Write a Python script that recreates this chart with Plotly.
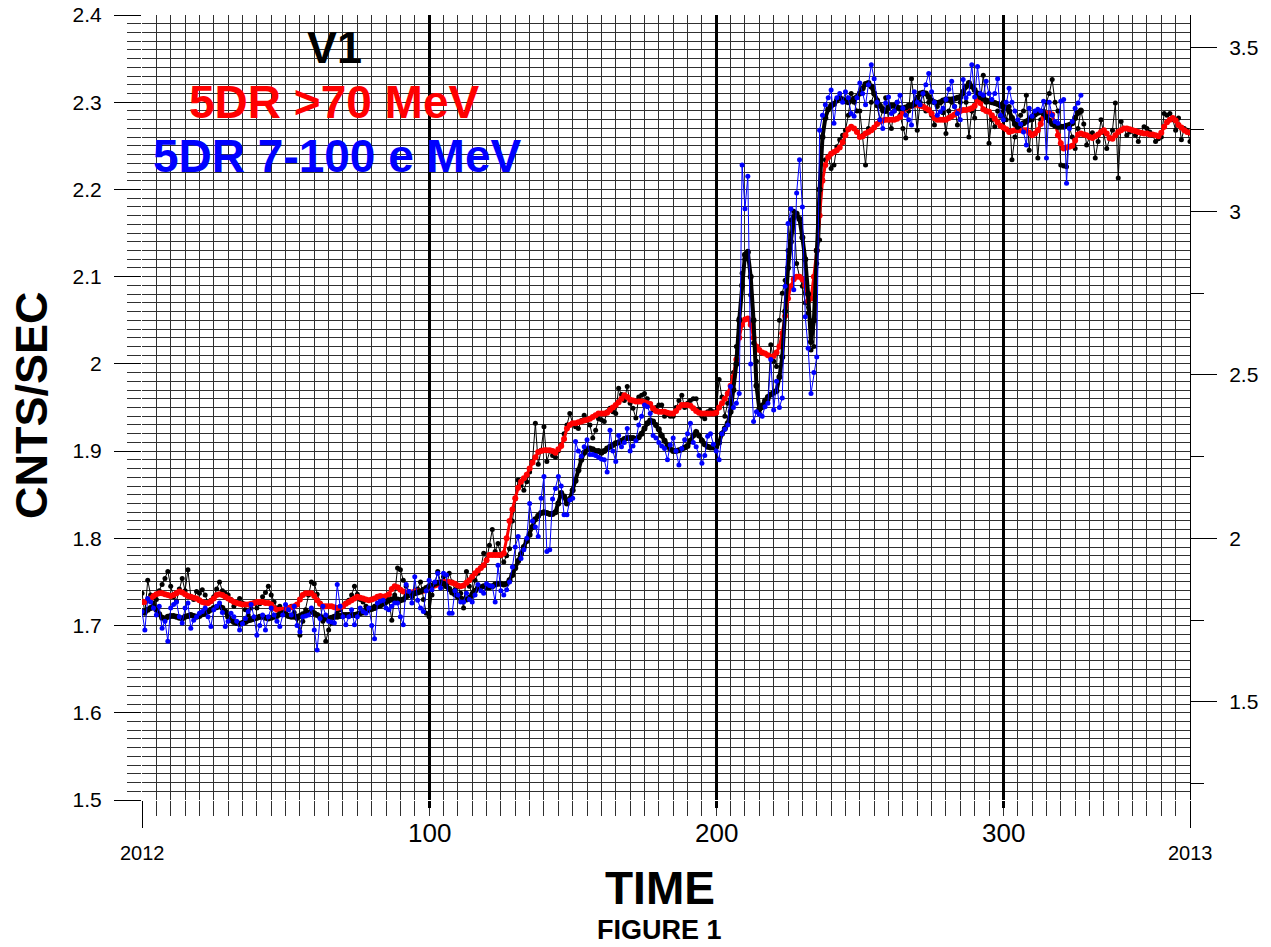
import plotly.graph_objects as go

# ---------------- data ----------------
black_daily = [
    1.737, 1.714, 1.752, 1.735, 1.726, 1.730, 1.740, 1.747, 1.754, 1.762,
    1.745, 1.733, 1.728, 1.742, 1.754, 1.740, 1.764, 1.733, 1.730, 1.739,
    1.737, 1.741, 1.735, 1.726, 1.729, 1.733, 1.742, 1.750, 1.740, 1.737,
    1.735, 1.730, 1.722, 1.726, 1.731, 1.726, 1.718, 1.712, 1.720, 1.726,
    1.720, 1.725, 1.733, 1.738, 1.745, 1.735, 1.727, 1.720, 1.722, 1.714,
    1.716, 1.718, 1.722, 1.715, 1.708, 1.689, 1.705, 1.718, 1.735, 1.750,
    1.748, 1.736, 1.726, 1.705, 1.682, 1.695, 1.703, 1.710, 1.714, 1.718,
    1.722, 1.726, 1.729, 1.735, 1.745, 1.736, 1.730, 1.727, 1.722, 1.718,
    1.720, 1.722, 1.725, 1.724, 1.726, 1.728, 1.729, 1.706, 1.735, 1.766,
    1.764, 1.752, 1.745, 1.739, 1.733, 1.737, 1.742, 1.750, 1.730, 1.714,
    1.710, 1.735, 1.748, 1.762, 1.750, 1.756, 1.745, 1.760, 1.750, 1.741,
    1.745, 1.737, 1.720, 1.762, 1.745, 1.737, 1.752, 1.760, 1.766, 1.783,
    1.775, 1.792, 1.810, 1.785, 1.794, 1.780, 1.773, 1.780, 1.788, 1.820,
    1.845, 1.867, 1.861, 1.855, 1.865, 1.876, 1.888, 1.932, 1.885, 1.901,
    1.928, 1.888, 1.900, 1.895, 1.893, 1.900, 1.907, 1.920, 1.930, 1.943,
    1.932, 1.928, 1.926, 1.935, 1.941, 1.935, 1.930, 1.915, 1.924, 1.937,
    1.936, 1.934, 1.945, 1.949, 1.945, 1.943, 1.972, 1.965, 1.958, 1.974,
    1.955, 1.949, 1.938, 1.962, 1.964, 1.966, 1.960, 1.954, 1.947, 1.950,
    1.953, 1.953, 1.940, 1.942, 1.940, 1.940, 1.950, 1.958, 1.964, 1.950,
    1.955, 1.958, 1.960, 1.960, 1.948, 1.940, 1.937, 1.945, 1.947, 1.945,
    1.945, 1.982, 1.962, 1.940, 1.955, 1.968, 1.990, 2.020, 2.052, 2.104,
    2.120, 2.129, 2.079, 2.024, 2.003, 1.943, 1.950, 1.955, 1.959, 2.022,
    2.003, 1.997, 2.050, 2.081, 2.096, 2.130, 2.165, 2.175, 2.115, 2.100,
    2.089, 2.070, 2.058, 2.016, 2.020, 2.115, 2.142, 2.211, 2.234, 2.238,
    2.224, 2.228, 2.249, 2.257, 2.262, 2.268, 2.285, 2.310, 2.300, 2.290,
    2.290, 2.262, 2.228, 2.270, 2.300, 2.310, 2.296, 2.280, 2.290, 2.305,
    2.280, 2.270, 2.290, 2.300, 2.285, 2.270, 2.259, 2.290, 2.327, 2.300,
    2.268, 2.300, 2.310, 2.290, 2.300, 2.285, 2.274, 2.295, 2.300, 2.288,
    2.264, 2.290, 2.300, 2.295, 2.274, 2.300, 2.310, 2.300, 2.260, 2.290,
    2.282, 2.310, 2.300, 2.331, 2.300, 2.253, 2.280, 2.272, 2.290, 2.284,
    2.300, 2.280, 2.295, 2.234, 2.260, 2.270, 2.285, 2.290, 2.308, 2.245,
    2.280, 2.287, 2.236, 2.280, 2.290, 2.300, 2.310, 2.326, 2.300, 2.290,
    2.228, 2.227, 2.226, 2.272, 2.260, 2.247, 2.270, 2.291, 2.275, 2.251,
    2.260, 2.265, 2.236, 2.255, 2.280, 2.265, 2.247, 2.258, 2.268, 2.299,
    2.213, 2.278, 2.270, 2.262, 2.266, 2.268, 2.262, 2.255, 2.265, 2.272,
    2.270, 2.266, 2.262, 2.255, 2.258, 2.260, 2.287, 2.285, 2.287, 2.280,
    2.268, 2.282, 2.257, 2.270, 2.268, 2.255,
]

blue_daily = [
    1.716, 1.695, 1.731, 1.727, 1.720, 1.712, 1.722, 1.697, 1.705, 1.682,
    1.720, 1.724, 1.727, 1.710, 1.703, 1.720, 1.726, 1.697, 1.706, 1.710,
    1.714, 1.716, 1.720, 1.710, 1.699, 1.718, 1.722, 1.726, 1.715, 1.699,
    1.705, 1.714, 1.710, 1.705, 1.695, 1.702, 1.708, 1.716, 1.724, 1.710,
    1.689, 1.700, 1.712, 1.695, 1.710, 1.720, 1.712, 1.705, 1.699, 1.712,
    1.724, 1.718, 1.712, 1.722, 1.700, 1.693, 1.710, 1.711, 1.712, 1.720,
    1.695, 1.672, 1.708, 1.722, 1.712, 1.705, 1.704, 1.703, 1.747, 1.722,
    1.710, 1.701, 1.710, 1.718, 1.701, 1.710, 1.720, 1.716, 1.714, 1.720,
    1.700, 1.685, 1.726, 1.728, 1.729, 1.720, 1.718, 1.722, 1.726, 1.726,
    1.710, 1.701, 1.747, 1.739, 1.726, 1.756, 1.729, 1.720, 1.716, 1.740,
    1.752, 1.741, 1.750, 1.760, 1.743, 1.760, 1.758, 1.714, 1.714, 1.740,
    1.735, 1.727, 1.727, 1.737, 1.730, 1.727, 1.735, 1.747, 1.740, 1.737,
    1.748, 1.746, 1.745, 1.727, 1.769, 1.740, 1.735, 1.741, 1.750, 1.767,
    1.790, 1.802, 1.777, 1.787, 1.800, 1.840, 1.820, 1.813, 1.802, 1.846,
    1.871, 1.785, 1.787, 1.845, 1.857, 1.871, 1.860, 1.827, 1.827, 1.844,
    1.846, 1.911, 1.900, 1.894, 1.905, 1.913, 1.896, 1.896, 1.895, 1.893,
    1.891, 1.890, 1.876, 1.924, 1.900, 1.888, 1.918, 1.905, 1.910, 1.926,
    1.900, 1.906, 1.912, 1.930, 1.940, 1.953, 1.951, 1.943, 1.918, 1.915,
    1.910, 1.906, 1.903, 1.890, 1.907, 1.915, 1.900, 1.884, 1.903, 1.913,
    1.920, 1.932, 1.910, 1.905, 1.895, 1.886, 1.895, 1.917, 1.920, 1.908,
    1.900, 1.890, 1.920, 1.925, 1.930, 1.974, 1.950, 1.955, 1.966, 2.228,
    2.178, 2.215, 2.000, 1.934, 1.945, 1.942, 1.940, 1.951, 1.955, 2.005,
    1.947, 1.980, 1.950, 1.961, 2.089, 2.161, 2.178, 2.085, 2.196, 2.234,
    2.180, 2.054, 2.018, 1.966, 1.990, 2.008, 2.268, 2.285, 2.297, 2.305,
    2.314, 2.276, 2.305, 2.310, 2.300, 2.312, 2.305, 2.287, 2.284, 2.305,
    2.322, 2.310, 2.297, 2.320, 2.343, 2.327, 2.300, 2.280, 2.270, 2.299,
    2.306, 2.287, 2.290, 2.300, 2.308, 2.293, 2.285, 2.280, 2.274, 2.312,
    2.300, 2.297, 2.310, 2.320, 2.333, 2.312, 2.300, 2.285, 2.289, 2.293,
    2.303, 2.315, 2.324, 2.295, 2.287, 2.280, 2.326, 2.305, 2.310, 2.343,
    2.306, 2.341, 2.310, 2.308, 2.324, 2.310, 2.303, 2.310, 2.327, 2.285,
    2.280, 2.300, 2.316, 2.300, 2.290, 2.280, 2.275, 2.266, 2.251, 2.293,
    2.284, 2.290, 2.292, 2.290, 2.301, 2.236, 2.300, 2.285, 2.278, 2.276,
    2.301, 2.303, 2.207, 2.270, 2.278, 2.293, 2.299, 2.308,
]

red_smooth = [
    1.727, 1.727, 1.729, 1.731, 1.734, 1.736, 1.737, 1.737, 1.736, 1.735,
    1.734, 1.735, 1.737, 1.739, 1.738, 1.736, 1.734, 1.733, 1.732, 1.731,
    1.729, 1.727, 1.726, 1.726, 1.728, 1.731, 1.735, 1.736, 1.735, 1.733,
    1.731, 1.729, 1.727, 1.726, 1.725, 1.724, 1.724, 1.724, 1.725, 1.726,
    1.727, 1.727, 1.727, 1.726, 1.726, 1.724, 1.720, 1.718, 1.718, 1.718,
    1.719, 1.720, 1.721, 1.722, 1.724, 1.730, 1.735, 1.737, 1.737, 1.737,
    1.734, 1.729, 1.725, 1.722, 1.722, 1.722, 1.722, 1.721, 1.720, 1.721,
    1.722, 1.725, 1.727, 1.729, 1.731, 1.733, 1.732, 1.731, 1.730, 1.729,
    1.730, 1.731, 1.733, 1.734, 1.733, 1.734, 1.736, 1.742, 1.745, 1.744,
    1.741, 1.739, 1.738, 1.737, 1.738, 1.739, 1.739, 1.739, 1.740, 1.742,
    1.744, 1.745, 1.746, 1.747, 1.748, 1.750, 1.750, 1.750, 1.749, 1.748,
    1.746, 1.745, 1.746, 1.749, 1.752, 1.756, 1.760, 1.763, 1.766, 1.769,
    1.775, 1.781, 1.781, 1.781, 1.781, 1.781, 1.783, 1.800, 1.820, 1.833,
    1.846, 1.858, 1.865, 1.869, 1.873, 1.880, 1.887, 1.893, 1.899, 1.900,
    1.901, 1.901, 1.901, 1.900, 1.898, 1.902, 1.906, 1.914, 1.926, 1.930,
    1.932, 1.932, 1.933, 1.934, 1.935, 1.936, 1.937, 1.939, 1.941, 1.943,
    1.943, 1.943, 1.944, 1.947, 1.950, 1.953, 1.956, 1.960, 1.964, 1.962,
    1.959, 1.958, 1.957, 1.957, 1.957, 1.956, 1.955, 1.954, 1.949, 1.946,
    1.945, 1.945, 1.945, 1.944, 1.943, 1.943, 1.946, 1.950, 1.953, 1.953,
    1.953, 1.952, 1.949, 1.946, 1.944, 1.943, 1.943, 1.943, 1.943, 1.943,
    1.944, 1.950, 1.955, 1.960, 1.966, 1.975, 1.985, 2.005, 2.030, 2.045,
    2.051, 2.052, 2.045, 2.030, 2.020, 2.016, 2.013, 2.012, 2.010, 2.008,
    2.009, 2.013, 2.020, 2.035, 2.055, 2.075, 2.089, 2.097, 2.100, 2.100,
    2.097, 2.090, 2.072, 2.075, 2.100, 2.130, 2.170, 2.210, 2.228, 2.237,
    2.241, 2.243, 2.245, 2.248, 2.254, 2.262, 2.269, 2.272, 2.270, 2.266,
    2.260, 2.261, 2.264, 2.266, 2.268, 2.271, 2.275, 2.278, 2.279, 2.280,
    2.280, 2.280, 2.280, 2.281, 2.283, 2.288, 2.293, 2.295, 2.296, 2.297,
    2.297, 2.296, 2.295, 2.293, 2.291, 2.287, 2.282, 2.280, 2.280, 2.280,
    2.280, 2.282, 2.284, 2.286, 2.289, 2.290, 2.291, 2.291, 2.292, 2.293,
    2.296, 2.302, 2.299, 2.292, 2.290, 2.289, 2.285, 2.281, 2.277, 2.273,
    2.271, 2.269, 2.266, 2.267, 2.268, 2.268, 2.268, 2.268, 2.268, 2.265,
    2.262, 2.264, 2.268, 2.275, 2.283, 2.287, 2.287, 2.286, 2.275, 2.262,
    2.253, 2.247, 2.248, 2.249, 2.250, 2.256, 2.263, 2.264, 2.263, 2.262,
    2.260, 2.259, 2.261, 2.263, 2.266, 2.268, 2.264, 2.259, 2.258, 2.262,
    2.266, 2.268, 2.270, 2.270, 2.269, 2.268, 2.267, 2.266, 2.265, 2.264,
    2.264, 2.263, 2.263, 2.262, 2.261, 2.265, 2.272, 2.277, 2.280, 2.282,
    2.279, 2.274, 2.271, 2.268, 2.266, 2.265,
]

black_smooth = [
    1.716, 1.716, 1.718, 1.720, 1.722, 1.718, 1.713, 1.709, 1.708, 1.710,
    1.711, 1.711, 1.710, 1.709, 1.708, 1.710, 1.711, 1.712, 1.711, 1.710,
    1.711, 1.713, 1.714, 1.716, 1.718, 1.720, 1.721, 1.722, 1.720, 1.716,
    1.710, 1.706, 1.704, 1.703, 1.702, 1.703, 1.704, 1.706, 1.707, 1.708,
    1.709, 1.710, 1.710, 1.709, 1.708, 1.709, 1.710, 1.711, 1.713, 1.714,
    1.713, 1.711, 1.710, 1.710, 1.710, 1.711, 1.713, 1.714, 1.715, 1.716,
    1.714, 1.712, 1.710, 1.709, 1.708, 1.708, 1.709, 1.710, 1.710, 1.711,
    1.712, 1.712, 1.712, 1.712, 1.712, 1.713, 1.714, 1.715, 1.717, 1.718,
    1.719, 1.720, 1.722, 1.723, 1.725, 1.727, 1.729, 1.730, 1.731, 1.730,
    1.729, 1.730, 1.733, 1.735, 1.736, 1.737, 1.738, 1.739, 1.741, 1.743,
    1.745, 1.746, 1.748, 1.749, 1.749, 1.748, 1.745, 1.742, 1.738, 1.736,
    1.733, 1.731, 1.730, 1.730, 1.732, 1.735, 1.740, 1.743, 1.744, 1.745,
    1.744, 1.744, 1.745, 1.747, 1.748, 1.748, 1.747, 1.748, 1.752, 1.758,
    1.766, 1.774, 1.782, 1.790, 1.797, 1.804, 1.813, 1.822, 1.826, 1.829,
    1.830, 1.829, 1.828, 1.828, 1.830, 1.840, 1.852, 1.848, 1.840, 1.845,
    1.855, 1.866, 1.878, 1.890, 1.898, 1.902, 1.903, 1.902, 1.900, 1.900,
    1.898, 1.900, 1.903, 1.905, 1.907, 1.909, 1.910, 1.912, 1.914, 1.915,
    1.915, 1.915, 1.914, 1.916, 1.920, 1.926, 1.932, 1.935, 1.934, 1.930,
    1.925, 1.918, 1.912, 1.906, 1.902, 1.900, 1.900, 1.901, 1.902, 1.904,
    1.906, 1.912, 1.918, 1.922, 1.918, 1.912, 1.908, 1.905, 1.904, 1.904,
    1.905, 1.910, 1.920, 1.926, 1.932, 1.945, 1.970, 2.000, 2.050, 2.090,
    2.125, 2.128, 2.100, 2.050, 1.975, 1.948, 1.952, 1.958, 1.962, 1.965,
    1.967, 1.969, 1.985, 2.008, 2.060, 2.110, 2.140, 2.168, 2.172, 2.166,
    2.145, 2.120, 2.080, 2.025, 2.050, 2.130, 2.200, 2.260, 2.282, 2.292,
    2.296, 2.298, 2.302, 2.305, 2.303, 2.301, 2.300, 2.302, 2.304, 2.306,
    2.310, 2.316, 2.321, 2.322, 2.318, 2.310, 2.302, 2.296, 2.292, 2.290,
    2.294, 2.296, 2.296, 2.294, 2.293, 2.293, 2.294, 2.296, 2.296, 2.298,
    2.305, 2.310, 2.311, 2.310, 2.306, 2.302, 2.300, 2.299, 2.300, 2.302,
    2.303, 2.303, 2.303, 2.304, 2.305, 2.306, 2.312, 2.318, 2.322, 2.318,
    2.314, 2.310, 2.306, 2.304, 2.302, 2.301, 2.300, 2.299, 2.298, 2.296,
    2.295, 2.294, 2.290, 2.282, 2.275, 2.272, 2.274, 2.276, 2.278, 2.280,
    2.283, 2.286, 2.288, 2.289, 2.287, 2.283, 2.279, 2.275, 2.273, 2.272,
    2.272, 2.272, 2.273, 2.274, 2.276, 2.282, 2.288, 2.290,
]

left_ticks = [1.5, 1.6, 1.7, 1.8, 1.9, 2.0, 2.1, 2.2, 2.3, 2.4]
left_labels = ["1.5", "1.6", "1.7", "1.8", "1.9", "2", "2.1", "2.2", "2.3", "2.4"]
right_ticks = [1.5, 2.0, 2.5, 3.0, 3.5]
right_labels = ["1.5", "2", "2.5", "3", "3.5"]
x_label_vals = [0, 100, 200, 300, 365]
x_label_text = ["2012", "100", "200", "300", "2013"]

FONT = "Liberation Sans, Arial, Helvetica, sans-serif"
GRID = "#303030"

def days(series):
    return list(range(len(series)))

fig = go.Figure()
fig.add_trace(go.Scatter(x=days(black_daily), y=black_daily, mode="lines+markers",
                         line=dict(color="black", width=1), marker=dict(color="black", size=5),
                         name="black daily"))
fig.add_trace(go.Scatter(x=days(blue_daily), y=blue_daily, mode="lines+markers",
                         line=dict(color="#0000ff", width=1), marker=dict(color="#0000ff", size=5),
                         name="blue daily", xaxis="x2"))
fig.add_trace(go.Scatter(x=days(red_smooth), y=red_smooth, mode="lines+markers",
                         line=dict(color="#ff0000", width=3), marker=dict(color="#ff0000", size=6),
                         name="red smooth"))
fig.add_trace(go.Scatter(x=days(black_smooth), y=black_smooth, mode="lines+markers",
                         line=dict(color="black", width=4), marker=dict(color="black", size=6),
                         name="black smooth"))
# empty trace so that the right-hand scale (yaxis2) is rendered
fig.add_trace(go.Scatter(x=[], y=[], yaxis="y2", mode="lines", hoverinfo="skip",
                         showlegend=False, name="right scale"))

fig.update_layout(
    width=1271, height=947,
    margin=dict(l=142, r=81, t=15, b=147, autoexpand=False),
    paper_bgcolor="white", plot_bgcolor="white",
    showlegend=False,
    font=dict(family=FONT, color="black"),
    xaxis=dict(range=[0, 365], tickmode="array", tickvals=[0, 365], ticktext=["", ""],
               ticks="outside", ticklen=27, tickwidth=1, tickcolor="black", automargin=False,
               showgrid=True, gridcolor=GRID, gridwidth=1, zeroline=False, showline=False,
               minor=dict(tick0=0, dtick=5, ticks="outside", ticklen=15, tickwidth=1,
                          tickcolor=GRID, showgrid=True, gridcolor=GRID, gridwidth=1)),
    xaxis2=dict(range=[0, 365], overlaying="x", anchor="y", side="bottom", automargin=False,
                tickmode="array", tickvals=[100, 200, 300], showticklabels=False,
                ticks="outside", ticklen=7, tickwidth=3, tickcolor="black",
                showgrid=True, gridcolor="black", gridwidth=3, zeroline=False, showline=False),
    yaxis=dict(range=[1.5, 2.4], tickmode="array", tickvals=left_ticks, ticktext=left_labels,
               ticks="outside", ticklen=27, tickwidth=1, tickcolor="black", automargin=False,
               tickfont=dict(size=21), ticklabelstandoff=8,
               showgrid=True, gridcolor=GRID, gridwidth=1,
               zeroline=False, showline=False,
               minor=dict(tick0=1.5, dtick=0.01, ticks="outside", ticklen=14, tickwidth=1,
                          tickcolor=GRID, showgrid=True, gridcolor=GRID, gridwidth=1)),
    yaxis2=dict(range=[1.2, 3.6], overlaying="y", side="right", anchor="x", automargin=False,
                tickmode="array", tickvals=right_ticks, ticktext=right_labels,
                ticks="outside", ticklen=26, tickwidth=1, tickcolor="black",
                tickfont=dict(size=21), ticklabelstandoff=8,
                showgrid=False, zeroline=False,
                showline=True, linecolor="black", linewidth=1,
                minor=dict(tick0=1.25, dtick=0.25, ticks="outside", ticklen=13,
                           tickwidth=1, tickcolor="black", showgrid=False)),
)

annotations = []
for v, t in zip(x_label_vals, x_label_text):
    big = t in ("100", "200", "300")
    annotations.append(dict(x=v, xref="x", y=(-0.0417 if big else -0.0675), yref="paper",
                            text=t, showarrow=False, xanchor="center", yanchor="middle",
                            font=dict(size=26 if big else 20, family=FONT, color="black")))

annotations += [
    dict(x=-0.106, y=0.503, xref="paper", yref="paper", text="<b>CNTS/SEC</b>", textangle=-90,
         showarrow=False, font=dict(size=45, family=FONT, color="black"),
         xanchor="center", yanchor="middle"),
    dict(x=0.494, y=-0.1127, xref="paper", yref="paper", text="<b>TIME</b>",
         showarrow=False, font=dict(size=46, family=FONT, color="black"),
         xanchor="center", yanchor="middle"),
    dict(x=0.494, y=-0.1656, xref="paper", yref="paper", text="<b>FIGURE 1</b>",
         showarrow=False, font=dict(size=27, family=FONT, color="black"),
         xanchor="center", yanchor="middle"),
    dict(x=0.184, y=0.959, xref="paper", yref="paper", text="<b>V1</b>",
         showarrow=False, font=dict(size=45, family=FONT, color="black"),
         xanchor="center", yanchor="middle"),
    dict(x=0.1837, y=0.8895, xref="paper", yref="paper", text="<b>5DR >70 MeV</b>",
         showarrow=False, font=dict(size=46, family=FONT, color="#ff0000"),
         xanchor="center", yanchor="middle"),
    dict(x=0.1865, y=0.8206, xref="paper", yref="paper", text="<b>5DR 7-100 e MeV</b>",
         showarrow=False, font=dict(size=46, family=FONT, color="#0000ff"),
         xanchor="center", yanchor="middle"),
]
fig.update_layout(annotations=annotations)

fig.write_html("out.html", config={"displayModeBar": False},
               post_script="document.body.style.margin='0px';")
